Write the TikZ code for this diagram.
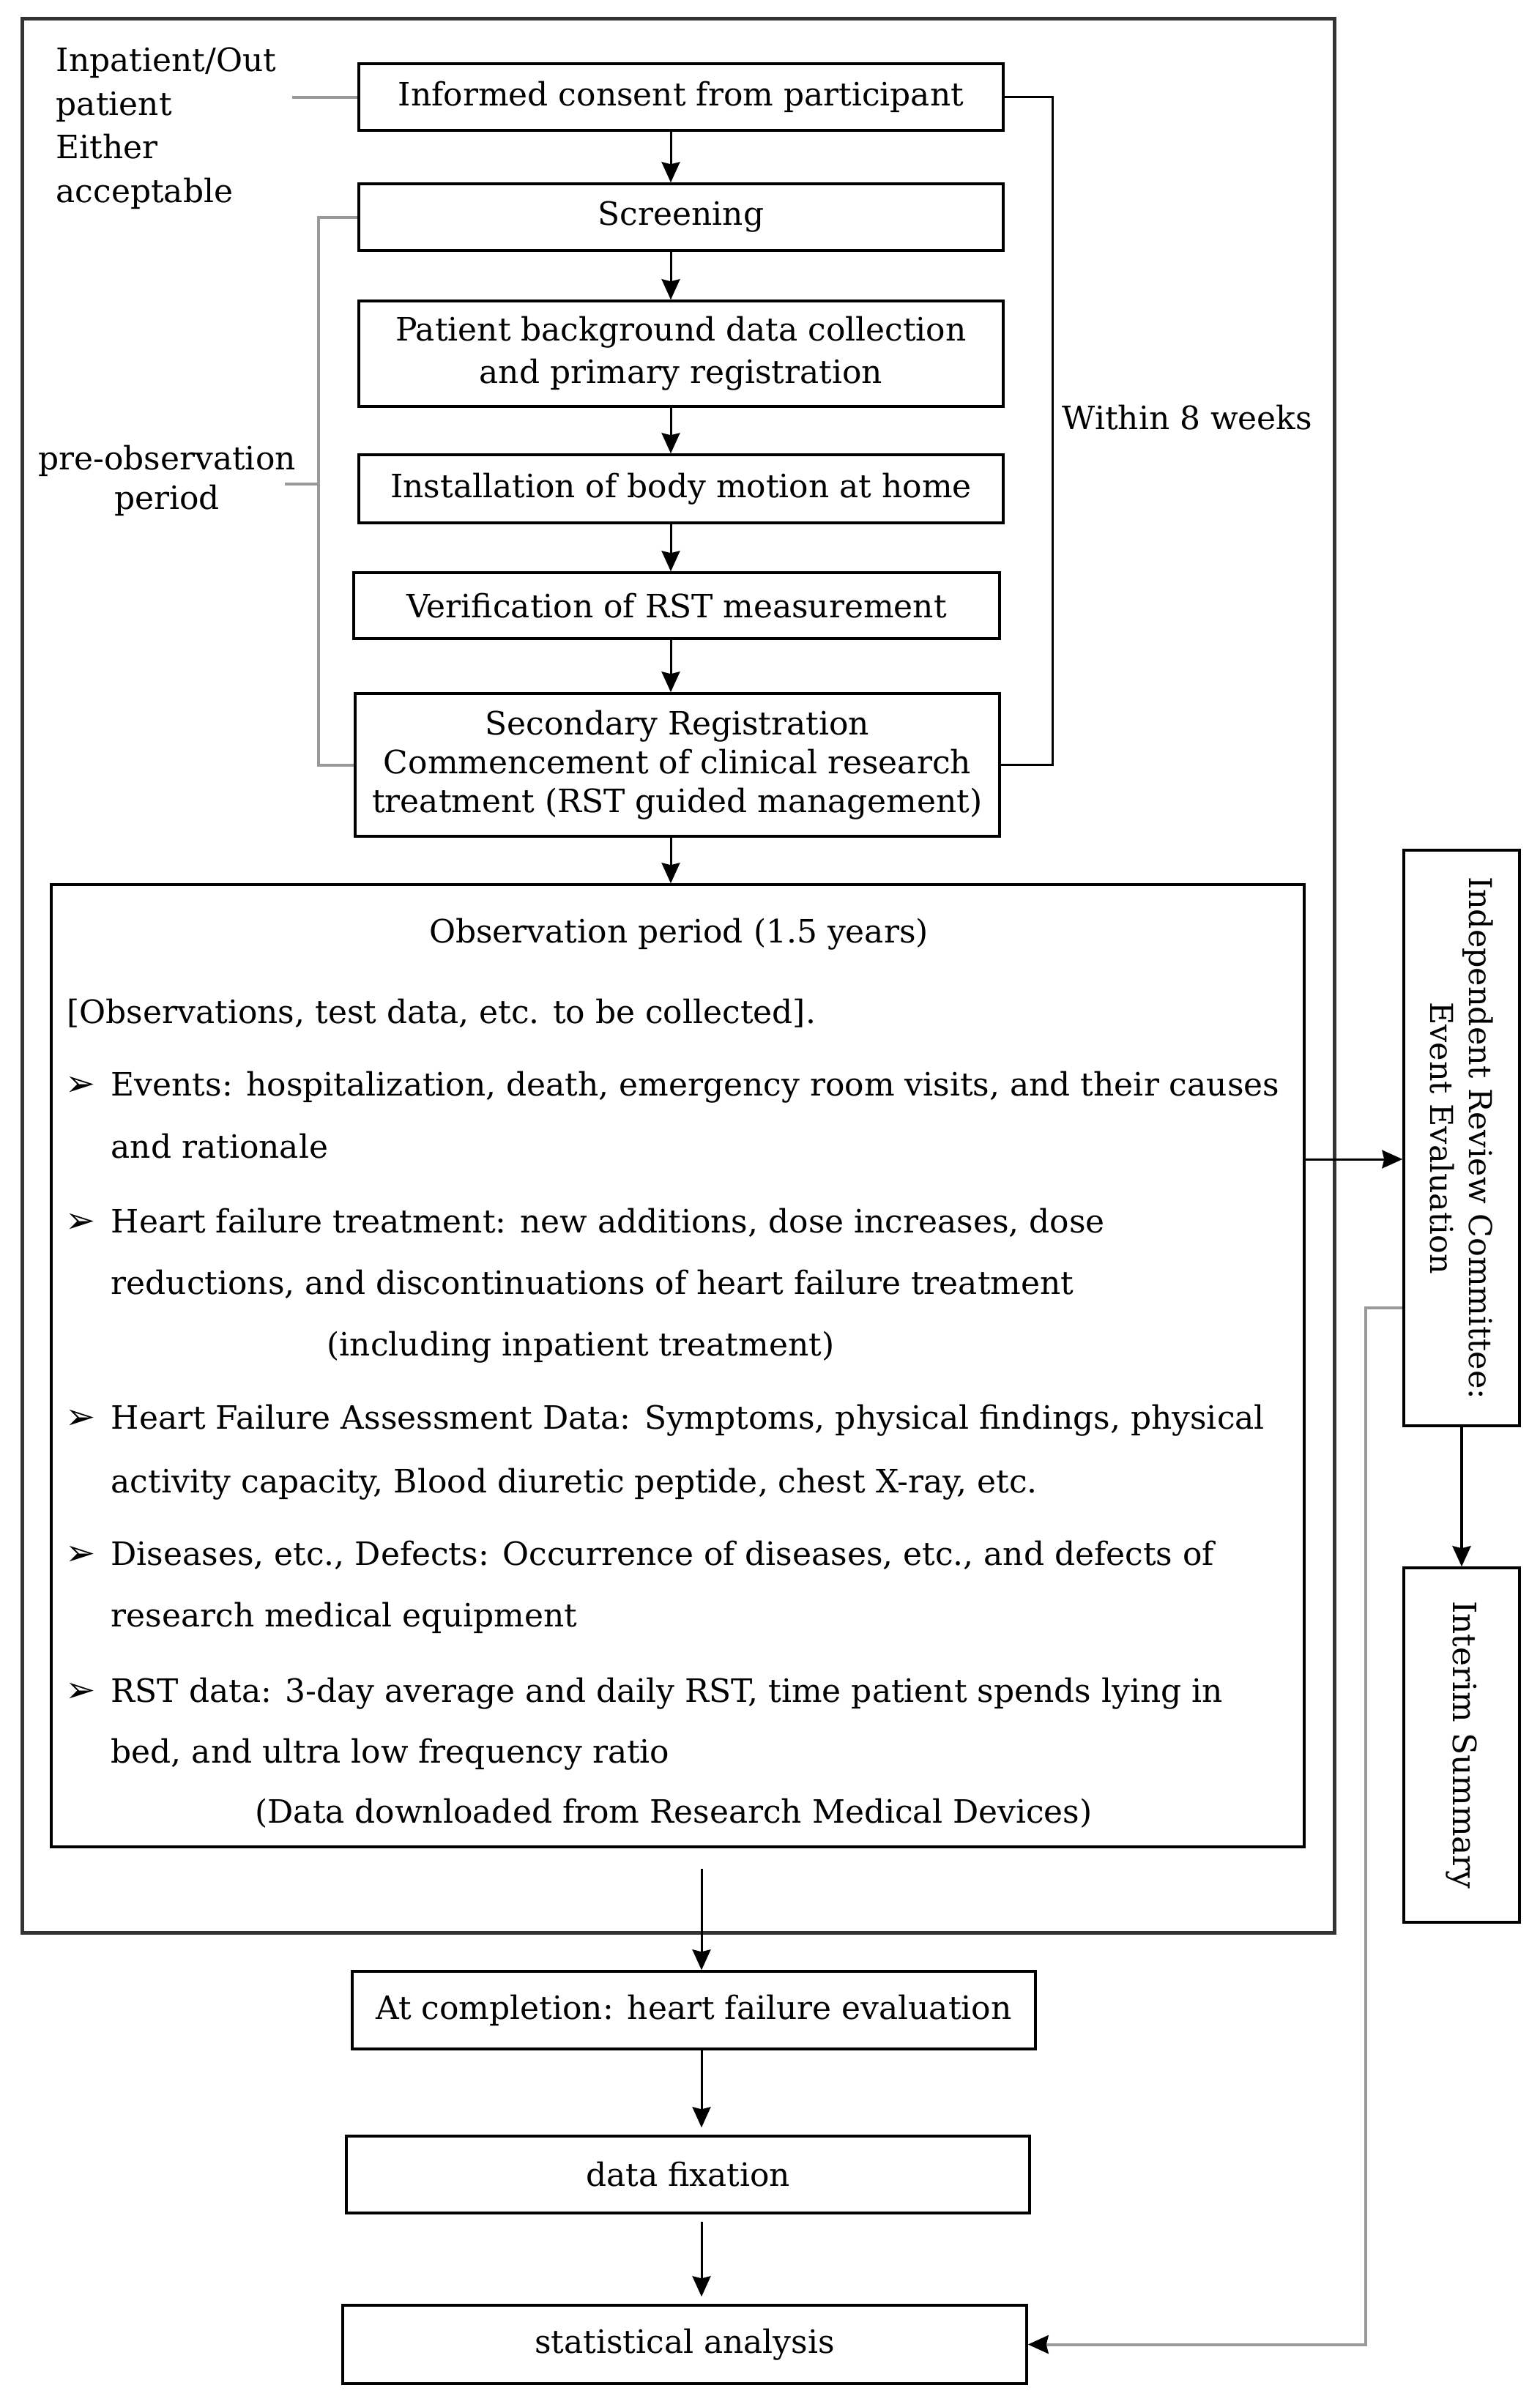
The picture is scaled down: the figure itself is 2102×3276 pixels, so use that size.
\documentclass[tikz,border=0pt]{standalone}
\usepackage{fontspec}
\setmainfont{DejaVu Serif}
\newfontfamily\symfont{DejaVu Sans}
\usetikzlibrary{arrows.meta}
\begin{document}
\begin{tikzpicture}[x=0.1mm,y=-0.1mm,
  every node/.style={font=\fontsize{12.5pt}{15pt}\selectfont},
  box/.style={draw=black, line width=0.35mm, inner sep=0, align=center},
  ln/.style={inner sep=0, text height=3.2mm, text depth=0mm, anchor=west},
  bul/.style={inner sep=0, text height=3.2mm, text depth=0mm, anchor=west, font=\symfont\fontsize{14pt}{15pt}\selectfont},
  arr/.style={line width=0.3mm, -{Stealth[length=2.8mm,width=2.5mm,inset=0.3mm]}},
  gline/.style={draw=black!40, line width=0.4mm},
  brk/.style={draw=black, line width=0.3mm},
  ]
\useasboundingbox (0,0) rectangle (2102,3276);
\fill[white] (0,0) rectangle (2102,3276);

% outer frame
\node[draw=black!80, line width=0.5mm, minimum width=179.2mm, minimum height=261.4mm, inner sep=0] (frame) at (926,1332) {};

% upper boxes
\node[box, minimum width=88mm, minimum height=9.1mm] (inf) at (930,132.5) {Informed consent from participant};
\node[box, minimum width=88mm, minimum height=9.1mm] (scr) at (930,296.5) {Screening};
\node[box, minimum width=88mm, minimum height=14.4mm, font=\fontsize{12.5pt}{16.5pt}\selectfont] (pbg) at (930,483) {Patient background data collection\\and primary registration};
\node[box, minimum width=88mm, minimum height=9.3mm] (ins) at (930,667.5) {Installation of body motion at home};
\node[box, minimum width=88.2mm, minimum height=9mm] (ver) at (924,827) {Verification of RST measurement};
\node[box, minimum width=88mm, minimum height=19.5mm, font=\fontsize{12.5pt}{15pt}\selectfont] (sec) at (925,1044.5) {Secondary Registration\\Commencement of clinical research\\treatment (RST guided management)};

% left labels
\node[anchor=north west, align=left, inner sep=0, font=\fontsize{12.5pt}{17pt}\selectfont] (inp) at (76,64) {Inpatient/Out\\patient\\Either\\acceptable};
\draw[gline] (inf.west) -- ++(-89,0);

\node[align=center, inner sep=0, font=\fontsize{12.5pt}{15.3pt}\selectfont] (pol) at (228,656) {pre-observation\\period};
\coordinate (po) at (435,661);
\draw[gline] (scr.west) -| (po) |- (sec.west);
\draw[gline] (po) -- ++(-46,0);

% within 8 weeks bracket
\coordinate (wk) at (1437,600);
\draw[brk] (inf.east) -| (wk) |- (sec.east);
\node[anchor=west, inner sep=0] (wl) at (1450,570) {Within 8 weeks};

% upper arrows
\coordinate (ax) at (916,0);
\draw[arr] (inf.south -| ax) -- (scr.north -| ax);
\draw[arr] (scr.south -| ax) -- (pbg.north -| ax);
\draw[arr] (pbg.south -| ax) -- (ins.north -| ax);
\draw[arr] (ins.south -| ax) -- (ver.north -| ax);
\draw[arr] (ver.south -| ax) -- (sec.north -| ax);

% observation box
\node[box, minimum width=171.1mm, minimum height=131.4mm] (obs) at (925.5,1865) {};
\draw[arr] (sec.south -| ax) -- (obs.north -| ax);

\node[ln, anchor=center] (ot) at (927,1271) {Observation period (1.5 years)};
\node[ln] (o0) at (91,1381) {[Observations, test data, etc. to be collected].};
\node[bul] (b1) at (89,1480) {➢};
\node[ln] (o1) at (151,1480) {Events: hospitalization, death, emergency room visits, and their causes};
\node[ln] (o1b) at (151,1565) {and rationale};
\node[bul] (b2) at (89,1667) {➢};
\node[ln] (o2) at (151,1667) {Heart failure treatment: new additions, dose increases, dose};
\node[ln] (o2b) at (151,1751) {reductions, and discontinuations of heart failure treatment};
\node[ln] (o2c) at (446,1835) {(including inpatient treatment)};
\node[bul] (b3) at (89,1935) {➢};
\node[ln] (o3) at (151,1935) {Heart Failure Assessment Data: Symptoms, physical findings, physical};
\node[ln] (o3b) at (151,2022) {activity capacity, Blood diuretic peptide, chest X-ray, etc.};
\node[bul] (b4) at (89,2121) {➢};
\node[ln] (o4) at (151,2121) {Diseases, etc., Defects: Occurrence of diseases, etc., and defects of};
\node[ln] (o4b) at (151,2205) {research medical equipment};
\node[bul] (b5) at (89,2308) {➢};
\node[ln] (o5) at (151,2308) {RST data: 3-day average and daily RST, time patient spends lying in};
\node[ln] (o5b) at (151,2391) {bed, and ultra low frequency ratio};
\node[ln, anchor=center] (o5c) at (920,2473) {(Data downloaded from Research Medical Devices)};

% right boxes
\node[box, minimum width=15.8mm, minimum height=78.6mm] (ind) at (1996,1554) {};
\node[rotate=-90, align=center, inner sep=0, font=\fontsize{12.2pt}{15pt}\selectfont] (indt) at (ind.center) {Independent Review Committee:\\Event Evaluation};
\node[box, minimum width=15.8mm, minimum height=48.4mm] (int) at (1996,2383) {};
\node[rotate=-90, inner sep=0] (intt) at (int.center) {Interim Summary};

\coordinate (ey) at (0,1583);
\draw[arr] (obs.east |- ey) -- (ind.west |- ey);
\draw[arr, line width=0.4mm] (ind.south) -- (int.north);

% lower boxes
\node[box, minimum width=93.3mm, minimum height=10.6mm] (comp) at (947.5,2745) {At completion: heart failure evaluation};
\node[box, minimum width=93.3mm, minimum height=10.5mm] (fix) at (939.5,2969.5) {data fixation};
\node[box, minimum width=93.4mm, minimum height=10.7mm] (stat) at (935,3201.5) {statistical analysis};

\coordinate (ax2) at (958,0);
\draw[arr, shorten <=2.8mm] (obs.south -| ax2) -- (comp.north -| ax2);
\draw[arr, shorten >=1mm] (comp.south -| ax2) -- (fix.north -| ax2);
\draw[arr, shorten <=1mm, shorten >=1mm] (fix.south -| ax2) -- (stat.north -| ax2);

\coordinate (g1) at (1865,1786);
\draw[gline, -{Stealth[length=2.8mm,width=2.5mm,inset=0.3mm,color=black]}] (ind.west |- g1) -- (g1) |- (stat.east);
\end{tikzpicture}
\end{document}
